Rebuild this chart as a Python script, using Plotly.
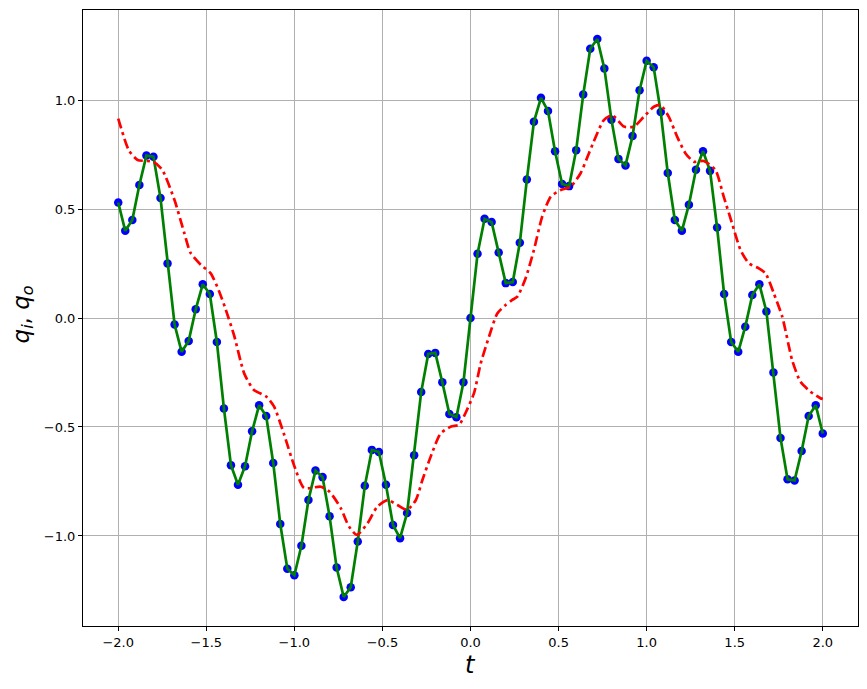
import plotly.graph_objects as go

# sampled input signal q_i (green line with blue markers)
t_in = [round(-2 + 0.04 * k, 2) for k in range(101)]
q_in = [0.53, 0.40, 0.45, 0.61, 0.745, 0.74, 0.55, 0.25, -0.03, -0.155,
        -0.105, 0.04, 0.155, 0.11, -0.11, -0.415, -0.675, -0.765, -0.68, -0.52,
        -0.40, -0.45, -0.665, -0.945, -1.15, -1.18, -1.045, -0.835, -0.70, -0.73,
        -0.91, -1.145, -1.28, -1.235, -1.025, -0.77, -0.605, -0.615, -0.765, -0.95,
        -1.01, -0.895, -0.63, -0.34, -0.165, -0.16, -0.295, -0.44, -0.455, -0.295,
        0.0,
        0.295, 0.455, 0.44, 0.30, 0.16, 0.165, 0.345, 0.635, 0.90, 1.01,
        0.95, 0.765, 0.615, 0.605, 0.77, 1.025, 1.235, 1.28, 1.145, 0.91,
        0.73, 0.70, 0.835, 1.045, 1.18, 1.15, 0.945, 0.665, 0.45, 0.40,
        0.52, 0.68, 0.765, 0.675, 0.415, 0.11, -0.11, -0.155, -0.04, 0.105,
        0.155, 0.03, -0.25, -0.55, -0.74, -0.745, -0.61, -0.45, -0.40, -0.53]

# output signal q_o (red dash-dot curve)
t_out = [-2.00, -1.94, -1.89, -1.80, -1.75, -1.68, -1.625, -1.59, -1.53, -1.475,
         -1.43, -1.39, -1.34, -1.285, -1.23, -1.16, -1.115, -1.06, -1.00, -0.945,
         -0.85, -0.80, -0.736, -0.69, -0.645, -0.585, -0.53, -0.47, -0.415, -0.36,
         -0.31, -0.273, -0.226, -0.17, -0.11, -0.065, -0.025, 0.02, 0.058, 0.105,
         0.152, 0.20, 0.237, 0.266, 0.313, 0.36, 0.407, 0.455, 0.512, 0.568,
         0.625, 0.672, 0.70, 0.757, 0.805, 0.871, 0.928, 0.984, 1.041, 1.079,
         1.126, 1.173, 1.221, 1.268, 1.324, 1.39, 1.438, 1.485, 1.533, 1.58,
         1.637, 1.675, 1.722, 1.77, 1.826, 1.873, 1.93, 1.987, 2.00]
q_out = [0.915, 0.77, 0.725, 0.717, 0.68, 0.54, 0.39, 0.30, 0.243, 0.205,
         0.128, 0.04, -0.086, -0.254, -0.33, -0.36, -0.407, -0.53, -0.68, -0.78,
         -0.774, -0.797, -0.873, -0.957, -0.995, -0.942, -0.866, -0.835, -0.858, -0.88,
         -0.835, -0.743, -0.636, -0.53, -0.498, -0.49, -0.43, -0.345, -0.208, -0.086,
         0.021, 0.06, 0.083, 0.098, 0.182, 0.312, 0.465, 0.556, 0.587, 0.602,
         0.664, 0.755, 0.81, 0.908, 0.931, 0.878, 0.878, 0.923, 0.969, 0.977,
         0.923, 0.832, 0.755, 0.717, 0.72, 0.68, 0.556, 0.434, 0.312, 0.251,
         0.228, 0.205, 0.113, 0.006, -0.193, -0.292, -0.338, -0.368, -0.372]

x_ticks = [-2.0, -1.5, -1.0, -0.5, 0.0, 0.5, 1.0, 1.5, 2.0]
y_ticks = [-1.0, -0.5, 0.0, 0.5, 1.0]


def lab(v):
    return f"{v:.1f}".replace("-", "\u2212")


fig = go.Figure()
fig.add_trace(go.Scatter(x=t_in, y=q_in, mode="markers",
                         marker=dict(color="#0000ff", size=8.5, line=dict(width=0)),
                         showlegend=False, hoverinfo="skip"))
fig.add_trace(go.Scatter(x=t_in, y=q_in, mode="lines",
                         line=dict(color="#008000", width=2.7),
                         showlegend=False))
fig.add_trace(go.Scatter(x=t_out, y=q_out, mode="lines",
                         line=dict(color="#ff0000", width=2.7, dash="10px,4px,3px,4px",
                                   shape="spline", smoothing=0.6),
                         showlegend=False))

axis_common = dict(showgrid=True, gridcolor="#b0b0b0", gridwidth=1,
                   showline=True, linecolor="black", linewidth=1, mirror=True,
                   ticks="outside", ticklen=4, tickcolor="black", automargin=False,
                   zeroline=False, tickfont=dict(family="DejaVu Sans", size=13, color="black"))

# the page body adds an 8px offset; size the figure so the plot box lands where the reference has it
fig.update_layout(
    width=859, height=681,
    margin=dict(l=75, r=9, t=2, b=63),
    plot_bgcolor="white", paper_bgcolor="white",
    xaxis=dict(range=[-2.2, 2.2], tickvals=x_ticks, ticktext=[lab(v) for v in x_ticks],
               **axis_common),
    yaxis=dict(range=[-1.413, 1.413], tickvals=y_ticks, ticktext=[lab(v) for v in y_ticks],
               **axis_common),
    annotations=[
        dict(text="<i>t</i>", xref="paper", yref="paper", x=0.5, y=-0.064,
             xanchor="center", yanchor="middle", showarrow=False,
             font=dict(family="DejaVu Sans", size=24, color="black")),
        dict(text="<i>q<sub>i</sub></i>, <i>q<sub>o</sub></i>", xref="paper", yref="paper",
             x=-0.078, y=0.505, xanchor="center", yanchor="middle", textangle=-90,
             showarrow=False, font=dict(family="DejaVu Sans", size=23, color="black")),
    ],
)

fig.write_html("out.html")
